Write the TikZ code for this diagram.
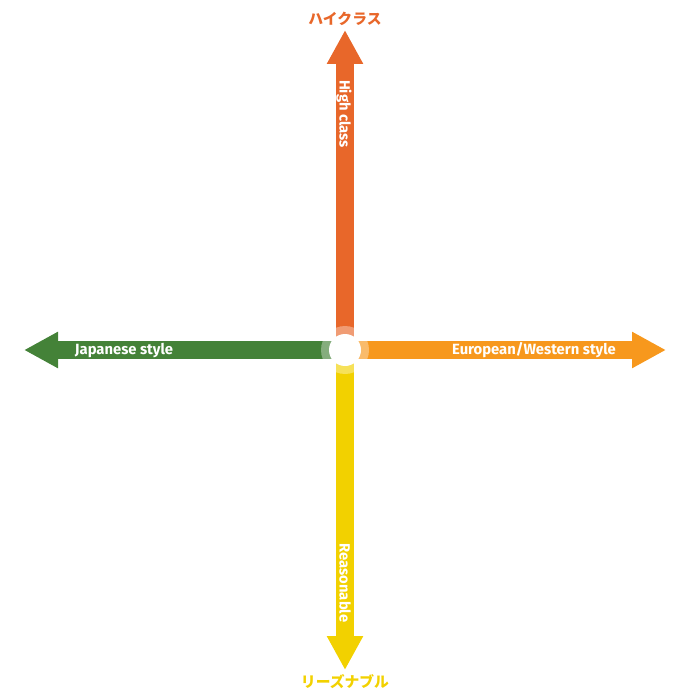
\documentclass[tikz,border=0pt]{standalone}
\usepackage{fontspec}
\setmainfont{Fira Sans}
\newfontfamily\jpfont{Noto Sans CJK JP}
\usepackage{xcolor}
\usepackage{tikz}
\usetikzlibrary{arrows.meta,positioning}
\definecolor{highcol}{HTML}{E8672A}
\definecolor{lowcol}{HTML}{F2D100}
\definecolor{jpcol}{HTML}{448238}
\definecolor{eucol}{HTML}{F7981D}

\begin{document}
\begin{tikzpicture}[x=1pt, y=-1pt,
    axis/.style={line width=18pt, -{Triangle[length=34pt, width=34pt]}},
    axislabel/.style={text=white, font=\fontsize{14.8}{15}\selectfont\bfseries, inner sep=0pt, anchor=base},
    endlabel/.style={font=\fontsize{14.8}{15}\selectfont\jpfont\bfseries, inner sep=0pt}]
  \useasboundingbox (0,0) rectangle (690,700);
  \coordinate (o) at (345,350);
  \coordinate (top) at (345,30);
  \coordinate (bottom) at (345,670);
  \coordinate (left) at (24,350);
  \coordinate (right) at (666,350);
  \draw[axis, highcol] (o) -- (top);
  \draw[axis, lowcol] (o) -- (bottom);
  \draw[axis, jpcol] (o) -- (left);
  \draw[axis, eucol] (o) -- (right);
  \node[circle, fill=white, fill opacity=0.35, minimum size=48pt, inner sep=0pt] (ring) at (o) {};
  \node[circle, fill=white, minimum size=32pt, inner sep=0pt] (hub) at (o) {};
  \node[axislabel, rotate=-90] (high) at (339.5,114) {High class};
  \node[axislabel, rotate=-90] (low) at (339.5,583) {Reasonable};
  \node[axislabel] (jp) at (124,354) {Japanese style};
  \node[axislabel] (eu) at (534,354) {European/Western style};
  \node[endlabel, text=highcol] (highjp) at (345,19) {ハイクラス};
  \node[endlabel, text=lowcol] (lowjp) at (345,682) {リーズナブル};
\end{tikzpicture}
\end{document}
